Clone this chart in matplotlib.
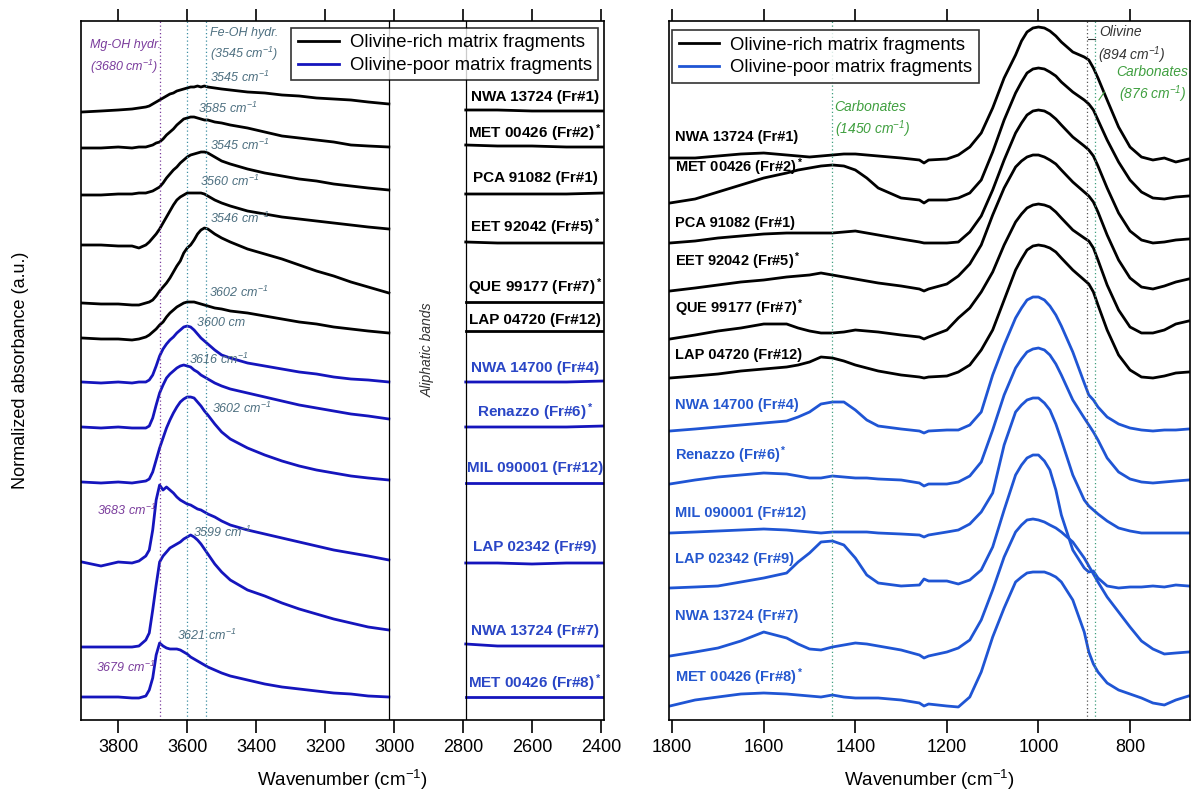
import matplotlib
matplotlib.use('Agg')
import matplotlib.pyplot as plt
from matplotlib.lines import Line2D

plt.rcParams['font.family'] = ['Liberation Sans', 'DejaVu Sans']
plt.rcParams['mathtext.fontset'] = 'custom'
plt.rcParams['mathtext.rm'] = 'Liberation Sans'
plt.rcParams['mathtext.it'] = 'Liberation Sans:italic'
plt.rcParams['mathtext.bf'] = 'Liberation Sans:bold'
plt.rcParams['mathtext.default'] = 'regular'

# ---- data (stacked normalized absorbance, arbitrary units) ----
samples = ['NWA 13724 (Fr#1)', 'MET 00426 (Fr#2)$^*$', 'PCA 91082 (Fr#1)',
           'EET 92042 (Fr#5)$^*$', 'QUE 99177 (Fr#7)$^*$', 'LAP 04720 (Fr#12)',
           'NWA 14700 (Fr#4)', 'Renazzo (Fr#6)$^*$', 'MIL 090001 (Fr#12)',
           'LAP 02342 (Fr#9)', 'NWA 13724 (Fr#7)', 'MET 00426 (Fr#8)$^*$']
olivine_rich = [True] * 6 + [False] * 6

# 3 um region (OH stretching)
w_oh = [3905, 3850, 3800, 3760, 3740, 3720, 3710, 3700, 3690, 3680, 3670, 3660,
        3650, 3640, 3630, 3620, 3610, 3600, 3590, 3580, 3570, 3560, 3550, 3540,
        3520, 3500, 3475, 3425, 3375, 3325, 3275, 3225, 3175, 3125, 3075, 3015]
oh_nwa13724_fr1 = [608, 609, 610, 611, 612, 613, 614, 616, 618, 620, 622, 624, 626, 627, 629, 630, 631, 632,
                   633, 633, 634, 633, 634, 633, 632, 631, 630, 628, 627, 625, 624, 622, 621, 620, 618, 616]
oh_met00426_fr2 = [572, 572, 573, 572, 573, 573, 574, 575, 577, 578, 581, 585, 588, 591, 595, 598, 601, 602,
                   603, 603, 602, 601, 600, 600, 598, 597, 595, 592, 588, 584, 582, 580, 578, 575, 574, 573]
oh_pca91082_fr1 = [525, 525, 526, 526, 527, 527, 528, 529, 531, 533, 537, 542, 546, 550, 553, 557, 560, 563,
                   565, 566, 567, 568, 568, 567, 563, 559, 556, 551, 547, 544, 541, 539, 536, 534, 532, 530]
oh_eet92042_fr5 = [475, 475, 474, 474, 472, 475, 478, 482, 486, 491, 497, 503, 509, 515, 520, 523, 525, 527,
                   527, 527, 527, 527, 526, 524, 520, 517, 514, 509, 506, 503, 501, 499, 497, 495, 493, 491]
oh_que99177_fr7 = [417, 416, 416, 415, 415, 417, 418, 420, 424, 429, 433, 437, 442, 448, 454, 459, 467, 472,
                   475, 480, 486, 490, 492, 491, 486, 482, 478, 471, 466, 461, 455, 449, 444, 438, 433, 427]
oh_lap04720_fr12 = [382, 381, 381, 380, 381, 383, 385, 388, 391, 395, 398, 403, 407, 410, 413, 415, 417, 418,
                    418, 418, 417, 416, 415, 414, 412, 411, 409, 407, 404, 401, 398, 396, 393, 391, 389, 387]
oh_nwa14700_fr4 = [338, 337, 338, 337, 338, 338, 340, 345, 354, 364, 371, 376, 380, 383, 387, 390, 393, 394,
                   393, 390, 386, 382, 379, 376, 370, 365, 362, 357, 354, 351, 348, 346, 343, 341, 340, 338]
oh_renazzo_fr6 = [293, 292, 293, 292, 292, 292, 294, 302, 315, 327, 335, 342, 346, 349, 352, 354, 355, 354,
                  353, 350, 348, 345, 343, 341, 337, 334, 331, 327, 323, 319, 315, 312, 309, 306, 304, 301]
oh_mil090001_fr12 = [238, 237, 238, 237, 238, 239, 241, 248, 260, 272, 282, 292, 300, 307, 313, 318, 321, 323,
                     323, 322, 318, 314, 309, 305, 296, 288, 281, 272, 265, 259, 254, 250, 247, 244, 242, 240]
oh_lap02342_fr9 = [158, 154, 158, 157, 159, 164, 170, 190, 220, 235, 230, 233, 230, 227, 223, 220, 218, 216,
                   215, 213, 211, 210, 208, 206, 203, 199, 195, 190, 186, 182, 178, 174, 170, 167, 164, 160]
oh_nwa13724_fr7 = [73, 73, 73, 73, 74, 80, 87, 110, 135, 158, 164, 168, 172, 174, 176, 178, 181, 183,
                   185, 183, 180, 176, 171, 166, 156, 148, 140, 130, 124, 117, 111, 106, 101, 97, 93, 90]
oh_met00426_fr8 = [23, 23, 23, 22, 22, 24, 30, 42, 65, 77, 74, 72, 71, 71, 71, 70, 68, 66,
                   63, 61, 59, 57, 55, 53, 50, 47, 44, 40, 36, 33, 31, 29, 27, 26, 24, 23]

# region below the aliphatic bands
w_tail = [2792, 2700, 2600, 2500, 2392]
tail_nwa13724_fr1 = [610, 610, 609, 609, 609]
tail_met00426_fr2 = [575, 574, 574, 573, 573]
tail_pca91082_fr1 = [526, 526, 526, 526, 527]
tail_eet92042_fr5 = [478, 477, 477, 477, 477]
tail_que99177_fr7 = [418, 418, 418, 418, 418]
tail_lap04720_fr12 = [389, 389, 389, 389, 389]
tail_nwa14700_fr4 = [338, 338, 338, 338, 339]
tail_renazzo_fr6 = [293, 293, 293, 293, 294]
tail_mil090001_fr12 = [237, 237, 237, 237, 237]
tail_lap02342_fr9 = [157, 157, 156, 157, 157]
tail_nwa13724_fr7 = [76, 74, 74, 74, 74]
tail_met00426_fr8 = [23, 23, 23, 23, 23]

# 10 um region (silicates, carbonates)
w_si = [1805, 1750, 1700, 1650, 1600, 1550, 1525, 1500, 1475, 1450, 1425, 1400, 1375, 1350,
        1300, 1260, 1250, 1240, 1200, 1175, 1150, 1125, 1100, 1075, 1050, 1037, 1025, 1012,
        1000, 987, 975, 962, 950, 925, 900, 890, 880, 870, 850, 825, 800, 775, 750, 725, 700, 672]
si_nwa13724_fr1 = [562, 562, 564, 566, 567, 565, 564, 563, 564, 565, 566, 566, 565, 564, 562, 560, 557, 560,
                   561, 565, 573, 587, 612, 642, 665, 679, 688, 692, 693, 692, 689, 684, 678, 668, 663, 660,
                   652, 642, 620, 593, 573, 563, 560, 562, 558, 561]
si_met00426_fr2 = [517, 521, 528, 535, 542, 547, 550, 552, 554, 555, 554, 550, 542, 532, 522, 520, 517, 520,
                   520, 522, 527, 540, 568, 600, 627, 638, 647, 651, 652, 651, 648, 644, 638, 628, 620, 616,
                   610, 600, 580, 558, 540, 528, 522, 521, 523, 524]
si_pca91082_fr1 = [477, 479, 482, 484, 486, 487, 487, 487, 487, 487, 488, 489, 487, 485, 481, 478, 477, 477,
                   477, 478, 488, 504, 530, 560, 587, 597, 605, 609, 610, 609, 606, 601, 595, 583, 574, 570,
                   564, 554, 532, 507, 489, 480, 477, 478, 480, 481]
si_eet92042_fr5 = [429, 432, 435, 438, 440, 443, 444, 445, 447, 445, 443, 441, 439, 437, 434, 431, 429, 431,
                   436, 444, 456, 475, 505, 532, 553, 559, 563, 565, 565, 563, 560, 556, 550, 538, 528, 524,
                   518, 508, 485, 460, 442, 433, 431, 434, 438, 441]
si_que99177_fr7 = [381, 385, 389, 392, 396, 396, 392, 389, 387, 387, 388, 390, 389, 388, 385, 383, 381, 383,
                   390, 402, 412, 428, 448, 475, 498, 506, 512, 515, 516, 515, 513, 508, 502, 490, 482, 479,
                   472, 460, 435, 410, 393, 387, 387, 390, 396, 399]
si_lap04720_fr12 = [342, 344, 346, 349, 351, 353, 355, 358, 363, 362, 359, 355, 352, 349, 345, 343, 342, 343,
                    344, 348, 355, 370, 390, 420, 450, 461, 470, 474, 475, 474, 472, 468, 462, 450, 440, 436,
                    428, 415, 390, 365, 350, 343, 342, 344, 347, 348]
si_nwa14700_fr4 = [289, 291, 293, 295, 297, 299, 303, 308, 316, 318, 318, 310, 300, 294, 291, 289, 287, 289,
                   290, 290, 295, 308, 345, 375, 402, 412, 420, 423, 423, 420, 414, 405, 394, 368, 337, 325,
                   320, 313, 303, 296, 292, 290, 289, 290, 290, 291]
si_renazzo_fr6 = [236, 240, 243, 245, 247, 246, 244, 242, 242, 244, 243, 242, 242, 241, 240, 237, 234, 236,
                  236, 238, 244, 258, 290, 325, 352, 361, 368, 371, 372, 370, 365, 356, 345, 320, 302, 295,
                  288, 280, 262, 248, 241, 238, 237, 238, 239, 240]
si_mil090001_fr12 = [187, 188, 189, 190, 191, 190, 189, 188, 187, 188, 188, 188, 188, 187, 186, 185, 183, 185,
                     188, 190, 196, 208, 227, 275, 308, 315, 320, 322, 322, 317, 310, 296, 280, 245, 220, 214,
                     210, 206, 199, 192, 189, 187, 187, 187, 187, 187]
si_lap02342_fr9 = [132, 133, 134, 138, 142, 147, 158, 167, 178, 179, 175, 162, 145, 137, 134, 135, 141, 139,
                   139, 136, 140, 150, 173, 210, 245, 255, 262, 265, 265, 259, 250, 230, 205, 170, 152, 148,
                   149, 142, 134, 132, 133, 133, 134, 133, 135, 134]
si_nwa13724_fr7 = [64, 68, 72, 79, 88, 82, 76, 71, 70, 73, 75, 77, 76, 74, 70, 65, 62, 64,
                   68, 72, 80, 100, 130, 163, 188, 195, 200, 201, 200, 198, 195, 192, 188, 178, 162, 154,
                   146, 138, 123, 108, 93, 79, 71, 66, 67, 68]
si_met00426_fr8 = [14, 20, 23, 26, 27, 26, 25, 24, 23, 25, 23, 22, 22, 22, 20, 17, 14, 16,
                   14, 13, 23, 48, 83, 112, 138, 143, 147, 148, 148, 148, 146, 143, 138, 120, 88, 68,
                   56, 48, 37, 30, 26, 22, 17, 15, 20, 24]

oh_spectra = [oh_nwa13724_fr1, oh_met00426_fr2, oh_pca91082_fr1, oh_eet92042_fr5, oh_que99177_fr7,
              oh_lap04720_fr12, oh_nwa14700_fr4, oh_renazzo_fr6, oh_mil090001_fr12, oh_lap02342_fr9,
              oh_nwa13724_fr7, oh_met00426_fr8]
tail_spectra = [tail_nwa13724_fr1, tail_met00426_fr2, tail_pca91082_fr1, tail_eet92042_fr5, tail_que99177_fr7,
                tail_lap04720_fr12, tail_nwa14700_fr4, tail_renazzo_fr6, tail_mil090001_fr12, tail_lap02342_fr9,
                tail_nwa13724_fr7, tail_met00426_fr8]
si_spectra = [si_nwa13724_fr1, si_met00426_fr2, si_pca91082_fr1, si_eet92042_fr5, si_que99177_fr7,
              si_lap04720_fr12, si_nwa14700_fr4, si_renazzo_fr6, si_mil090001_fr12, si_lap02342_fr9,
              si_nwa13724_fr7, si_met00426_fr8]

# band maxima read for each OH spectrum
oh_peaks = ['3545', '3585', '3545', '3560', '3546', '3602', '3600', '3616', '3602', '3599', '3621']
mgoh_peaks = ['3683', '3679']

# ---- styles ----
blue_left = '#1515bd'
blue_right = '#1f55d4'
lab_blue_left = '#2a46c6'
lab_blue_right = '#2457cf'
peak_col = '#4d6f80'
mg_col = '#7a3c9c'
carb_col = '#3f9f3f'
lw = 2.0

fig = plt.figure(figsize=(11.98, 8.01), dpi=100)
axL = fig.add_axes([81 / 1198, 81 / 801, 523 / 1198, 699 / 801])
axR = fig.add_axes([669 / 1198, 81 / 801, 521 / 1198, 699 / 801])

for ax in (axL, axR):
    ax.set_ylim(0, 699)
    ax.set_yticks([])
    ax.tick_params(axis='x', which='both', direction='out', top=True, labeltop=False,
                   length=9, width=1.2, labelsize=13, pad=5)
    for s in ax.spines.values():
        s.set_linewidth(1.2)
    ax.set_xlabel('Wavenumber (cm$^{-1}$)', fontsize=13.5, labelpad=8)

# ---- left panel: OH region ----
axL.set_xlim(3908, 2391)
axL.set_xticks([3800, 3600, 3400, 3200, 3000, 2800, 2600, 2400])
for i in range(len(samples)):
    c = 'black' if olivine_rich[i] else blue_left
    axL.plot(w_oh, oh_spectra[i], color=c, lw=lw, solid_joinstyle='round')
    axL.plot(w_tail, tail_spectra[i], color=c, lw=lw)

axL.axvline(3014, color='black', lw=0.9)
axL.axvline(2792, color='black', lw=0.9)
axL.text(2902, 370, 'Aliphatic bands', rotation=90, style='italic', fontsize=10,
         color='#333333', ha='center', va='center')

axL.axvline(3680, color=mg_col, lw=0.9, ls=(0, (1, 2)))
axL.axvline(3600, color='#3e8fa3', lw=0.9, ls=(0, (1, 2)))
axL.axvline(3545, color='#3e8fa3', lw=0.9, ls=(0, (1, 2)))

axL.text(3882, 675, 'Mg-OH hydr.', style='italic', fontsize=9, color=mg_col, va='center')
axL.text(3882, 653, '(3680 cm$^{-1}$)', style='italic', fontsize=9, color=mg_col, va='center')
axL.text(3534, 687, 'Fe-OH hydr.', style='italic', fontsize=9, color=peak_col, va='center')
axL.text(3534, 666, '(3545 cm$^{-1}$)', style='italic', fontsize=9, color=peak_col, va='center')

peak_xy = [(3534, 643), (3569, 612), (3534, 575), (3563, 539), (3534, 502), (3537, 428),
           (3572, 397), (3595, 361), (3528, 312), (3583, 188), (3630, 85)]
for txt, (x, y) in zip(oh_peaks, peak_xy):
    unit = ' cm' if txt == '3600' else ' cm$^{-1}$'
    axL.text(x, y, txt + unit, style='italic', fontsize=9, color=peak_col, va='center')
for txt, (x, y) in zip(mgoh_peaks, [(3862, 210), (3865, 53)]):
    axL.text(x, y, txt + ' cm$^{-1}$', style='italic', fontsize=9, color=mg_col, va='center')

lab_y_left = [623, 587, 542, 493, 433, 400, 352, 308, 252, 173, 89, 37]
for i, name in enumerate(samples):
    c = 'black' if olivine_rich[i] else lab_blue_left
    axL.text(2591, lab_y_left[i], name, fontsize=11, fontweight='bold', color=c,
             ha='center', va='center')

hL = [Line2D([], [], color='black', lw=2), Line2D([], [], color=blue_left, lw=2)]
legL = axL.legend(hL, ['Olivine-rich matrix fragments', 'Olivine-poor matrix fragments'],
                  loc='upper right', bbox_to_anchor=(0.989, 0.99), borderaxespad=0,
                  fontsize=13.3, frameon=True, fancybox=False, handlelength=2.2,
                  labelspacing=0.3, borderpad=0.35, handletextpad=0.6)
legL.get_frame().set_edgecolor('black')
legL.get_frame().set_linewidth(1.2)

# ---- right panel: silicate region ----
axR.set_xlim(1807, 669)
axR.set_xticks([1800, 1600, 1400, 1200, 1000, 800])
for i in range(len(samples)):
    c = 'black' if olivine_rich[i] else blue_right
    axR.plot(w_si, si_spectra[i], color=c, lw=lw, solid_joinstyle='round')

axR.axvline(1450, color='#3f9f7f', lw=0.9, ls=(0, (1, 2)))
axR.axvline(894, color='#555555', lw=0.9, ls=(0, (1, 2)))
axR.axvline(876, color='#3f9f7f', lw=0.9, ls=(0, (1, 2)))

axR.text(1445, 613, 'Carbonates', style='italic', fontsize=10, color=carb_col, va='center')
axR.text(1445, 591, '(1450 cm$^{-1}$)', style='italic', fontsize=10, color=carb_col, va='center')
axR.text(868, 688, 'Olivine', style='italic', fontsize=10, color='#333333', va='center')
axR.text(870, 665, '(894 cm$^{-1}$)', style='italic', fontsize=10, color='#333333', va='center')
axR.text(673, 648, 'Carbonates', style='italic', fontsize=10, color=carb_col, va='center', ha='right')
axR.text(676, 626, '(876 cm$^{-1}$)', style='italic', fontsize=10, color=carb_col, va='center', ha='right')
axR.plot([891, 876], [681, 681], color='#333333', lw=0.8)
axR.plot([868, 856], [620, 628], color=carb_col, lw=0.8)

lab_y_right = [583, 553, 497, 459, 412, 365, 315, 265, 207, 161, 104, 43]
for i, name in enumerate(samples):
    c = 'black' if olivine_rich[i] else lab_blue_right
    axR.text(1793, lab_y_right[i], name, fontsize=10.5, fontweight='bold', color=c,
             ha='left', va='center')

hR = [Line2D([], [], color='black', lw=2), Line2D([], [], color=blue_right, lw=2)]
legR = axR.legend(hR, ['Olivine-rich matrix fragments', 'Olivine-poor matrix fragments'],
                  loc='upper left', bbox_to_anchor=(0.006, 0.987), borderaxespad=0,
                  fontsize=13.3, frameon=True, fancybox=False, handlelength=2.2,
                  labelspacing=0.3, borderpad=0.35, handletextpad=0.6)
legR.get_frame().set_edgecolor('black')
legR.get_frame().set_linewidth(1.2)

fig.text(0.017, 0.538, 'Normalized absorbance (a.u.)', rotation=90, fontsize=13,
         ha='center', va='center')

fig.savefig('out.png', dpi=100)
